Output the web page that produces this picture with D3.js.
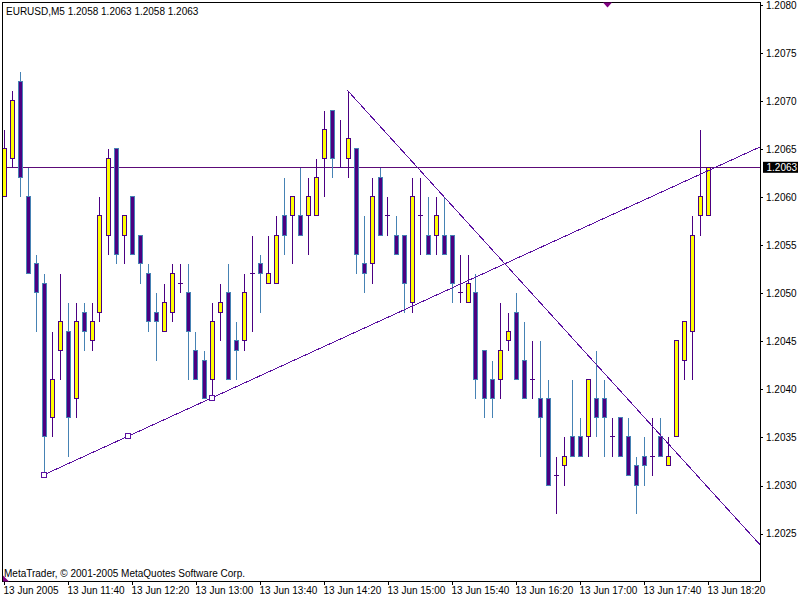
<!DOCTYPE html>
<html>
<head>
<meta charset="utf-8">
<script src="https://cdn.jsdelivr.net/npm/d3@7"></script>
<style>
  html, body { margin: 0; padding: 0; background: #fff; }
  svg { display: block; font-family: "Liberation Sans", Arial, sans-serif; }
</style>
</head>
<body>
<div id="chart"></div>
<script>

// EURUSD M5, 13 Jun 2005, bars from 11:00 to 18:20
const opens = [
  1.2060, 1.2064, 1.2072, 1.2060, 1.2053, 1.2051, 1.2037, 1.2044, 1.2046, 1.2039,
  1.2048, 1.2045, 1.2048, 1.2056, 1.2065, 1.2056, 1.2060, 1.2056, 1.2052, 1.2048,
  1.2046, 1.2048, 1.2051, 1.2050, 1.2044, 1.2043, 1.2041, 1.2048, 1.2050, 1.2045,
  1.2045, 1.2052, 1.2053, 1.2051, 1.2051, 1.2058, 1.2058, 1.2058, 1.2058, 1.2058,
  1.2064, 1.2069, 1.2063, 1.2064, 1.2065, 1.2053, 1.2053, 1.2062, 1.2058, 1.2056,
  1.2056, 1.2049, 1.2058, 1.2056, 1.2056, 1.2056, 1.2056, 1.2050, 1.2049, 1.2050,
  1.2044, 1.2041, 1.2041, 1.2045, 1.2048, 1.2043, 1.2041, 1.2039, 1.2039, 1.2031,
  1.2032, 1.2035, 1.2035, 1.2035, 1.2039, 1.2039, 1.2035, 1.2037, 1.2035, 1.2032,
  1.2033, 1.2033, 1.2035, 1.2032, 1.2035, 1.2043, 1.2046, 1.2058, 1.2058
];
const highs = [
  1.2067, 1.2071, 1.2073, 1.2063, 1.2054, 1.2052, 1.2046, 1.2052, 1.2049, 1.2049,
  1.2049, 1.2049, 1.2060, 1.2065, 1.2065, 1.2058, 1.2060, 1.2056, 1.2053, 1.2050,
  1.2051, 1.2053, 1.2053, 1.2053, 1.2046, 1.2044, 1.2049, 1.2051, 1.2053, 1.2047,
  1.2052, 1.2056, 1.2054, 1.2056, 1.2058, 1.2062, 1.2060, 1.2063, 1.2062, 1.2064,
  1.2069, 1.2069, 1.2068, 1.2071, 1.2065, 1.2058, 1.2062, 1.2063, 1.2060, 1.2058,
  1.2056, 1.2062, 1.2062, 1.2060, 1.2060, 1.2060, 1.2056, 1.2054, 1.2054, 1.2052,
  1.2044, 1.2043, 1.2049, 1.2048, 1.2050, 1.2047, 1.2045, 1.2045, 1.2041, 1.2033,
  1.2035, 1.2041, 1.2037, 1.2041, 1.2044, 1.2041, 1.2037, 1.2037, 1.2037, 1.2033,
  1.2035, 1.2037, 1.2037, 1.2035, 1.2045, 1.2047, 1.2058, 1.2067, 1.2063
];
const lows = [
  1.2060, 1.2063, 1.2060, 1.2052, 1.2046, 1.2031, 1.2035, 1.2041, 1.2033, 1.2037,
  1.2044, 1.2044, 1.2047, 1.2054, 1.2053, 1.2053, 1.2054, 1.2051, 1.2046, 1.2043,
  1.2046, 1.2047, 1.2050, 1.2041, 1.2041, 1.2039, 1.2039, 1.2045, 1.2041, 1.2041,
  1.2044, 1.2046, 1.2048, 1.2051, 1.2051, 1.2054, 1.2053, 1.2056, 1.2054, 1.2058,
  1.2060, 1.2062, 1.2063, 1.2062, 1.2052, 1.2050, 1.2051, 1.2056, 1.2056, 1.2054,
  1.2048, 1.2048, 1.2054, 1.2054, 1.2054, 1.2054, 1.2049, 1.2049, 1.2049, 1.2039,
  1.2037, 1.2037, 1.2039, 1.2044, 1.2041, 1.2039, 1.2039, 1.2033, 1.2030, 1.2027,
  1.2030, 1.2033, 1.2033, 1.2033, 1.2035, 1.2033, 1.2033, 1.2033, 1.2031, 1.2027,
  1.2030, 1.2031, 1.2033, 1.2032, 1.2035, 1.2041, 1.2041, 1.2056, 1.2058
];
const closes = [
  1.2065, 1.2070, 1.2062, 1.2052, 1.2050, 1.2035, 1.2041, 1.2047, 1.2037, 1.2047,
  1.2046, 1.2047, 1.2058, 1.2064, 1.2054, 1.2058, 1.2054, 1.2053, 1.2047, 1.2047,
  1.2049, 1.2052, 1.2051, 1.2046, 1.2041, 1.2039, 1.2047, 1.2049, 1.2041, 1.2044,
  1.2050, 1.2052, 1.2052, 1.2052, 1.2056, 1.2056, 1.2060, 1.2056, 1.2060, 1.2062,
  1.2067, 1.2064, 1.2063, 1.2066, 1.2054, 1.2052, 1.2060, 1.2056, 1.2058, 1.2054,
  1.2051, 1.2060, 1.2058, 1.2054, 1.2058, 1.2054, 1.2051, 1.2050, 1.2051, 1.2041,
  1.2039, 1.2039, 1.2044, 1.2046, 1.2041, 1.2039, 1.2041, 1.2037, 1.2030, 1.2031,
  1.2033, 1.2033, 1.2033, 1.2041, 1.2037, 1.2037, 1.2035, 1.2033, 1.2031, 1.2030,
  1.2032, 1.2033, 1.2033, 1.2033, 1.2045, 1.2047, 1.2056, 1.2060, 1.2063
];

const priceTicks = [1.2080, 1.2075, 1.2070, 1.2065, 1.2060, 1.2055, 1.2050, 1.2045, 1.2040, 1.2035, 1.2030, 1.2025];
const timeTickBars = [0, 8, 16, 24, 32, 40, 48, 56, 64, 72, 80, 88];
const timeLabels = ["13 Jun 2005", "13 Jun 11:40", "13 Jun 12:20", "13 Jun 13:00", "13 Jun 13:40", "13 Jun 14:20",
                    "13 Jun 15:00", "13 Jun 15:40", "13 Jun 16:20", "13 Jun 17:00", "13 Jun 17:40", "13 Jun 18:20"];

const bidPrice = 1.2063;
// trend lines: [bar, price] anchors, drawn as rays to the right
const upTrend = [[5, 1.2031], [26, 1.2039]];
const downTrend = [[43, 1.2071], [55, 1.2060]];
const shiftMarkerBar = 75.5;

const header = "EURUSD,M5  1.2058 1.2063 1.2058 1.2063";
const copyright = "MetaTrader, \u00a9 2001-2005 MetaQuotes Software Corp.";


// Colours
// =======

const BULL_FILL = "#ffff00", BULL_LINE = "#4b0082";
const BEAR_FILL = "#4b0082", BEAR_LINE = "#4682b4";
const OBJ_COLOR = "#5a10a0";
const BID_COLOR = "#5c0a78";

const W = 800, H = 600;
const L = 2.5, T = 2.5, R = 760.5, B = 581.5;

const x = d3.scaleLinear().domain([0, 88]).range([3.5, 707.5]);
const y = d3.scaleLinear().domain([1.2080, 1.2025]).range([3.9, 532.6]);
const py = (p) => Math.round(y(p)) + 0.5;

const svg = d3.select('#chart').append('svg')
  .attr('width', W)
  .attr('height', H)
  .attr('viewBox', `0 0 ${W} ${H}`);

svg.append('defs').append('clipPath').attr('id', 'plot')
  .append('rect').attr('x', L + 0.5).attr('y', T + 0.5).attr('width', R - L - 1).attr('height', B - T - 1);

const plot = svg.append('g').attr('clip-path', 'url(#plot)');

// bid line, behind bars
plot.append('line')
  .attr('x1', L).attr('x2', R)
  .attr('y1', py(bidPrice)).attr('y2', py(bidPrice))
  .attr('stroke', BID_COLOR).attr('stroke-width', 1)
  .attr('shape-rendering', 'crispEdges');

const bars = opens.map((o, i) => ({ i, o, h: highs[i], l: lows[i], c: closes[i] }));

const candles = plot.append('g').attr('shape-rendering', 'crispEdges')
  .selectAll('g').data(bars).enter().append('g');

candles.append('line')
  .attr('x1', d => Math.round(x(d.i)) + 0.5).attr('x2', d => Math.round(x(d.i)) + 0.5)
  .attr('y1', d => py(d.h)).attr('y2', d => py(d.l))
  .attr('stroke', d => d.c < d.o ? BEAR_LINE : BULL_LINE);

candles.filter(d => d.c !== d.o).append('rect')
  .attr('x', d => Math.round(x(d.i)) - 1.5)
  .attr('y', d => py(Math.max(d.o, d.c)))
  .attr('width', 4)
  .attr('height', d => py(Math.min(d.o, d.c)) - py(Math.max(d.o, d.c)))
  .attr('fill', d => d.c > d.o ? BULL_FILL : BEAR_FILL)
  .attr('stroke', d => d.c > d.o ? BULL_LINE : BEAR_LINE);

candles.filter(d => d.c === d.o).append('line')
  .attr('x1', d => Math.round(x(d.i)) - 2).attr('x2', d => Math.round(x(d.i)) + 3)
  .attr('y1', d => py(d.o)).attr('y2', d => py(d.o))
  .attr('stroke', BULL_LINE);

// trend rays
function ray(anchors) {
  const [[b0, p0], [b1, p1]] = anchors;
  const slope = (p1 - p0) / (b1 - b0);
  const bEnd = x.invert(R + 5);
  return [[b0, p0], [bEnd, p0 + slope * (bEnd - b0)]];
}
[upTrend, downTrend].forEach(t => {
  const r = ray(t);
  plot.append('line')
    .attr('x1', x(r[0][0])).attr('y1', y(r[0][1]))
    .attr('x2', x(r[1][0])).attr('y2', y(r[1][1]))
    .attr('stroke', OBJ_COLOR).attr('stroke-width', 1)
    .attr('shape-rendering', 'crispEdges');
});

// selected trend line handles (start, middle, end)
const handles = [upTrend[0], [(upTrend[0][0] + upTrend[1][0]) / 2, (upTrend[0][1] + upTrend[1][1]) / 2], upTrend[1]];
plot.append('g').attr('shape-rendering', 'crispEdges')
  .selectAll('rect').data(handles).enter().append('rect')
    .attr('x', d => Math.round(x(d[0])) - 2.5)
    .attr('y', d => Math.round(y(d[1])) - 2.5)
    .attr('width', 5).attr('height', 5)
    .attr('fill', '#fff').attr('stroke', OBJ_COLOR);

// frame
svg.append('rect')
  .attr('x', L).attr('y', T).attr('width', R - L).attr('height', B - T)
  .attr('fill', 'none').attr('stroke', '#000')
  .attr('shape-rendering', 'crispEdges');

// price axis
const yAxis = svg.append('g')
  .attr('transform', `translate(${R - 0.5},1)`)
  .attr('shape-rendering', 'crispEdges')
  .call(d3.axisRight(y).tickValues(priceTicks).tickSize(3).tickPadding(3).tickFormat(d3.format('.4f')));
yAxis.select('.domain').remove();
yAxis.selectAll('text').attr('fill', '#000').style('font-size', '10px').style('font-family', '"Liberation Sans", Arial, sans-serif');
yAxis.selectAll('line').attr('stroke', '#000');

// bid price box
const bidBox = svg.append('g').attr('transform', `translate(${R + 2.5},${y(bidPrice)})`);
bidBox.append('rect').attr('x', 0).attr('y', -5.5).attr('width', 35).attr('height', 11).attr('fill', '#000');
bidBox.append('text').attr('x', 3.5).attr('dy', '0.34em')
  .attr('fill', '#fff').style('font-size', '10px')
  .text(d3.format('.4f')(bidPrice));

// time axis
const xAxis = svg.append('g')
  .attr('transform', `translate(0,${B - 0.5})`)
  .attr('shape-rendering', 'crispEdges')
  .call(d3.axisBottom(x).tickValues(timeTickBars).tickSize(4).tickPadding(2).tickFormat((d, i) => timeLabels[i]));
xAxis.select('.domain').remove();
xAxis.selectAll('text').attr('fill', '#000').attr('text-anchor', 'start').attr('x', -0.5)
  .style('font-size', '10px').style('font-family', '"Liberation Sans", Arial, sans-serif');
xAxis.selectAll('line').attr('stroke', '#000');

// header and watermark
svg.append('text').attr('x', 6).attr('y', 14.5).style('font-size', '10px').attr('fill', '#000').text(header);
svg.append('text').attr('x', 4).attr('y', 577).style('font-size', '10px').attr('fill', '#000').text(copyright);

// small markers: chart shift and first-bar markers
const xm = x(shiftMarkerBar);
svg.append('path')
  .attr('d', `M${xm - 4.5},${T}L${xm + 4.5},${T}L${xm},${T + 5}Z`)
  .attr('fill', '#800080');
svg.append('path')
  .attr('d', `M${L + 0.5},${B - 6}L${L + 0.5},${B}L${L + 6.5},${B}Z`)
  .attr('fill', '#800080');

</script>
</body>
</html>
